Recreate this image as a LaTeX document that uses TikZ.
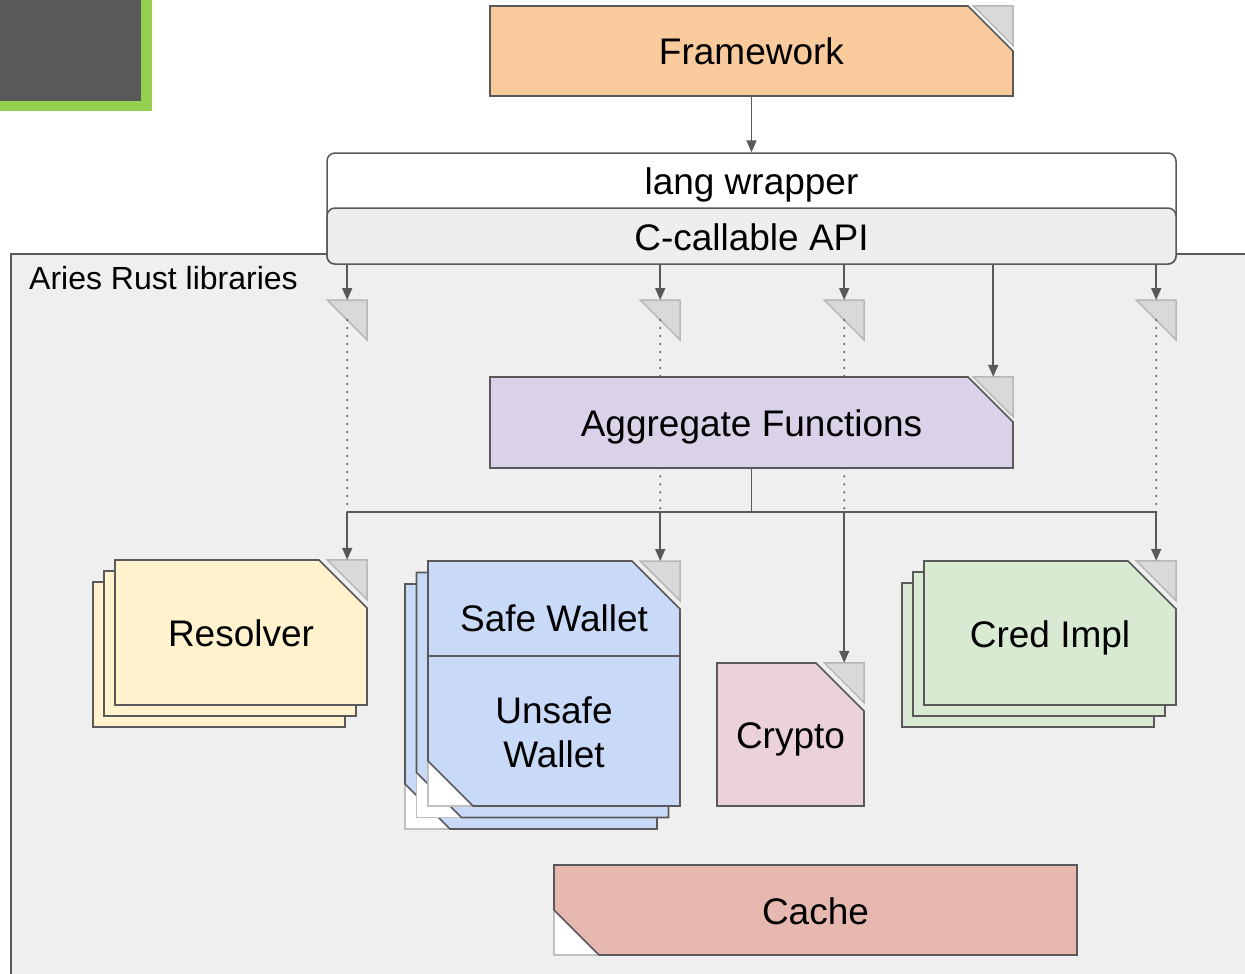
\documentclass[tikz,border=0pt]{standalone}
\usepackage{fontspec}
\setmainfont{Liberation Sans}
\usetikzlibrary{arrows.meta}
\definecolor{linegray}{RGB}{89,89,89}
\definecolor{panelgray}{RGB}{239,239,239}
\definecolor{capigray}{RGB}{238,238,238}
\definecolor{foldfill}{RGB}{217,217,217}
\definecolor{foldline}{RGB}{183,183,183}
\definecolor{cornerline}{RGB}{192,192,192}
\definecolor{blockdark}{RGB}{89,89,89}
\definecolor{blockgreen}{RGB}{147,208,80}
\definecolor{fworange}{RGB}{249,203,156}
\definecolor{aggpurple}{RGB}{217,210,233}
\definecolor{resyellow}{RGB}{255,242,204}
\definecolor{walletblue}{RGB}{201,218,248}
\definecolor{cryptopink}{RGB}{234,209,220}
\definecolor{credgreen}{RGB}{217,234,211}
\definecolor{cachered}{RGB}{230,184,175}

% box with the top right corner cut off
\newcommand{\snipbox}[6]{%
  \filldraw[box, fill=#6] (#1,#2) -- (#3-#5,#2) -- (#3,#2+#5) -- (#3,#4) -- (#1,#4) -- cycle;}
% box with the bottom left corner cut off
\newcommand{\cutbox}[5]{%
  \filldraw[corner] (#1,#4-45) -- (#1,#4) -- (#1+45,#4);
  \filldraw[box, fill=#5] (#1,#2) -- (#3,#2) -- (#3,#4) -- (#1+45,#4) -- (#1,#4-45) -- cycle;}
% both corners cut off
\newcommand{\walletbox}[4]{%
  \filldraw[corner] (#1,#4-45) -- (#1,#4) -- (#1+45,#4);
  \filldraw[box, fill=walletblue] (#1,#2) -- (#3-48,#2) -- (#3,#2+48) -- (#3,#4) -- (#1+45,#4) -- (#1,#4-45) -- cycle;}
% grey fold mark, #2 is its top right corner
\newcommand{\foldmark}[2][0pt]{%
  \filldraw[fold] ([xshift=#1-40pt]#2) -- ([xshift=#1]#2) -- ([xshift=#1,yshift=-40pt]#2) -- cycle;}

\begin{document}
\begin{tikzpicture}[x=1pt, y=-1pt,
    box/.style={draw=linegray, line width=1.6pt, line join=miter},
    corner/.style={fill=white, draw=cornerline, line width=1.5pt},
    fold/.style={fill=foldfill, draw=foldline, line width=1.5pt, line join=miter},
    txt/.style={inner sep=0pt, font=\fontsize{37}{44}\selectfont},
    lbl/.style={txt, text height=28pt, text depth=0pt},
    wire/.style={draw=linegray, line width=1.7pt},
    arr/.style={wire, -{Triangle[length=12pt,width=10pt]}},
    dots/.style={draw=linegray, line width=2.2pt, line cap=round, dash pattern=on 0pt off 8pt}]
  \clip (0,0) rectangle (1245,974);
  % library panel
  \filldraw[fill=panelgray, draw=linegray, line width=1.2pt] (11,254) rectangle (1270,1000);
  \node[anchor=west, inner sep=0pt, font=\fontsize{32}{38}\selectfont] (libs) at (29,278) {Aries Rust libraries};
  % corner block
  \fill[blockgreen] (-10,-10) rectangle (152,111);
  \fill[blockdark] (-10,-10) rectangle (141,101);

  % top
  \snipbox{490}{6}{1013}{96}{45}{fworange}
  \node[lbl, minimum width=523pt, minimum height=90pt] (fw) at (751.5,51) {Framework};
  \node[txt, draw=linegray, line width=1.5pt, fill=white, rounded corners=8pt,
        minimum width=849pt, text height=41pt, text depth=70pt] (lang) at (751.5,208.5) {lang wrapper};
  \node[lbl, draw=linegray, line width=1.5pt, fill=capigray, rounded corners=8pt,
        minimum width=849pt, minimum height=56pt, anchor=south] (capi) at (lang.south) {C-callable API};

  % aggregate
  \snipbox{490}{377}{1013}{468}{45}{aggpurple}
  \node[lbl, minimum width=523pt, minimum height=91pt] (agg) at (751.5,422.5) {Aggregate Functions};

  % libraries
  \foreach \k in {2,1,0}{
    \begin{scope}[shift={(-11*\k,11*\k)}]
      \snipbox{115}{560}{367}{705}{48}{resyellow}
      \snipbox{924}{561}{1176}{705}{48}{credgreen}
    \end{scope}
    \begin{scope}[shift={(-11.5*\k,11.5*\k)}]
      \walletbox{428}{561}{680}{806}
    \end{scope}
  }
  \node[lbl, minimum width=252pt, minimum height=145pt] (res) at (241,632.5) {Resolver};
  \node[txt, align=center, minimum width=252pt, minimum height=251pt, anchor=north] (wallet) at (554,561)
       {Safe Wallet\\[48pt]Unsafe\\Wallet};
  \draw[wire, line width=1.6pt] ([yshift=-95pt]wallet.north west) -- ([yshift=-95pt]wallet.north east);
  \snipbox{717}{663}{864}{806}{48}{cryptopink}
  \node[lbl, minimum width=147pt, minimum height=143pt] (cry) at (790.5,734.5) {Crypto};
  \node[lbl, minimum width=252pt, minimum height=144pt] (cred) at (1050,633) {Cred Impl};
  \cutbox{554}{865}{1077}{955}{cachered}
  \node[lbl, minimum width=523pt, minimum height=90pt] (cache) at (815.5,910) {Cache};

  % connection points
  \coordinate (tagg) at ([xshift=-20pt]agg.north east);
  \coordinate (tres) at ([xshift=-20pt]res.north east);
  \coordinate (twal) at ([xshift=-20pt]wallet.north east);
  \coordinate (tcry) at ([xshift=-20pt]cry.north east);
  \coordinate (tcred) at ([xshift=-20pt]cred.north east);
  \coordinate (mres) at (tres |- 0,300);
  \coordinate (mwal) at (twal |- 0,300);
  \coordinate (mcry) at (tcry |- 0,300);
  \coordinate (mcred) at (tcred |- 0,300);
  \coordinate (bus) at (agg.south |- 0,512);

  % fold marks
  \foldmark{fw.north east}
  \foldmark{agg.north east}
  \foldmark{res.north east}
  \foldmark{wallet.north east}
  \foldmark{cry.north east}
  \foldmark{cred.north east}
  \foreach \m in {mres,mwal,mcry,mcred}
    \foldmark[20pt]{\m};

  % connectors
  \draw[arr] (fw) -- (lang);
  \foreach \m in {mres,mwal,mcry,mcred}
    \draw[arr] (capi.south -| \m) -- (\m);
  \draw[arr] (capi.south -| tagg) -- (tagg);
  \draw[dots] ([yshift=-20pt]mres) -- (mres |- bus);
  \draw[dots] ([yshift=-20pt]mwal) -- (mwal |- agg.north);
  \draw[dots] (mwal |- agg.south) -- (mwal |- bus);
  \draw[dots] ([yshift=-20pt]mcry) -- (mcry |- agg.north);
  \draw[dots] (mcry |- agg.south) -- (mcry |- bus);
  \draw[dots] ([yshift=-20pt]mcred) -- (mcred |- bus);
  \draw[wire] (agg) -- (bus);
  \draw[wire] (tres |- bus) -- (tcred |- bus);
  \foreach \t in {tres,twal,tcry,tcred}
    \draw[arr] (\t |- bus) -- (\t);
\end{tikzpicture}
\end{document}
